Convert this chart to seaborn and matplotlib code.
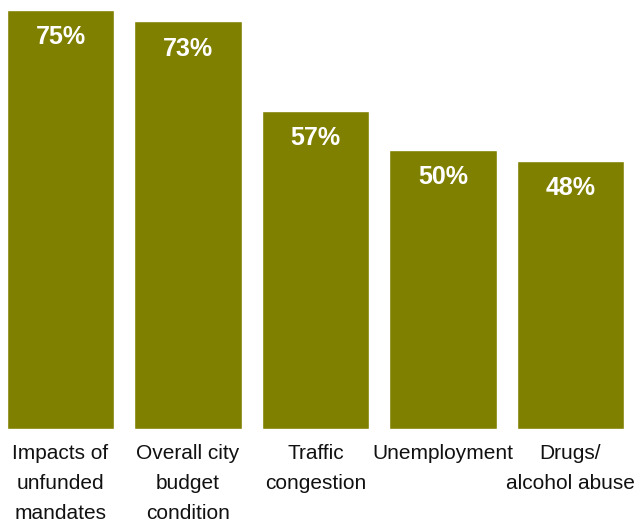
import matplotlib
matplotlib.use("Agg")
import matplotlib.pyplot as plt
import seaborn as sns
import pandas as pd

categories = ["Impacts of\nunfunded\nmandates", "Overall city\nbudget\ncondition",
              "Traffic\ncongestion", "Unemployment", "Drugs/\nalcohol abuse"]
values = [75, 73, 57, 50, 48]
value_labels = ["75%", "73%", "57%", "50%", "48%"]

sns.set_style("white")
plt.rcParams["font.family"] = ["Liberation Sans", "DejaVu Sans"]

df = pd.DataFrame({"cat": categories, "val": values})

fig = plt.figure(figsize=(6.42, 5.23), dpi=100)
ax = fig.add_axes([0, 94 / 523, 1, 429 / 523])
sns.barplot(data=df, x="cat", y="val", color="#808000", saturation=1, width=0.84, ax=ax)

ax.set_xlim(-0.4745, 4.561)
ax.set_ylim(0, 76.8)
for s in ax.spines.values():
    s.set_visible(False)
ax.set_yticks([])
ax.set_xlabel("")
ax.set_ylabel("")
ax.tick_params(axis="x", length=0, pad=11, labelsize=15)
for t in ax.get_xticklabels():
    t.set_linespacing(1.72)
    t.set_color("#111111")

for i, (v, lab) in enumerate(zip(values, value_labels)):
    ax.annotate(lab, xy=(i, v), xytext=(0, -24.8), textcoords="offset points",
                ha="center", va="baseline", color="white", fontsize=18, fontweight="bold")

fig.savefig("out.png", dpi=100)
